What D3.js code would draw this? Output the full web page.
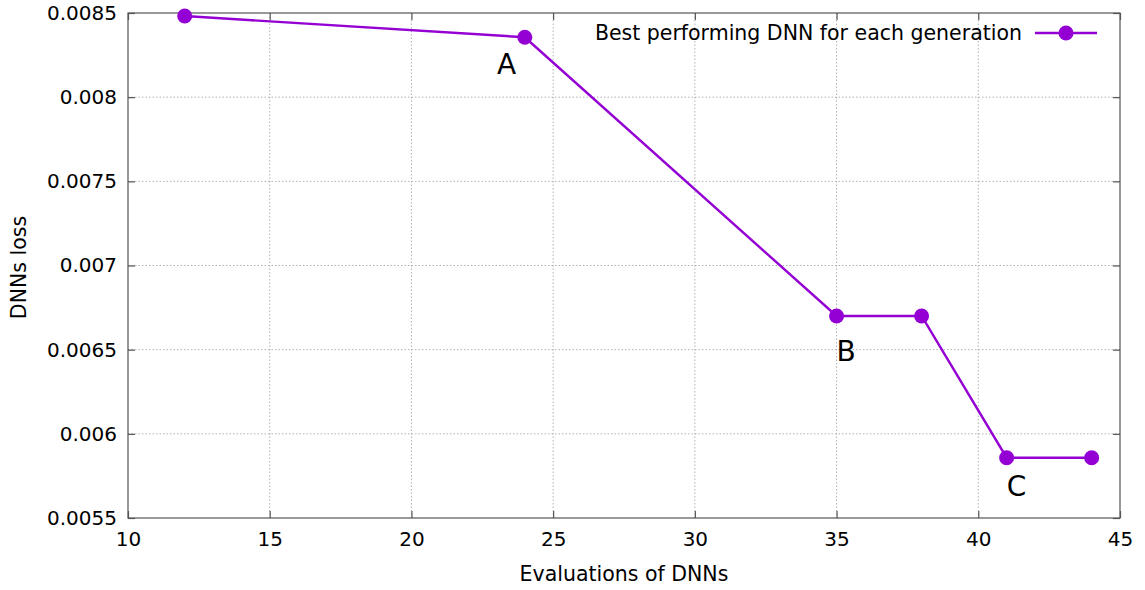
<!DOCTYPE html>
<html>
<head>
<meta charset="utf-8">
<script src="https://cdn.jsdelivr.net/npm/d3@7"></script>
<style>
  html, body { margin: 0; padding: 0; background: #fff; }
  svg { display: block; font-family: "DejaVu Sans", sans-serif; }
</style>
</head>
<body>
<svg id="chart" width="1145" height="590"></svg>
<script>
// Evaluations at which each generation's best network was recorded
const evaluations = [12, 24, 35, 38, 41, 44];
// Loss of the best network at each of those evaluations
const losses = [0.008482, 0.008356, 0.0067, 0.0067, 0.005858, 0.005858];
// Point annotations, anchored in data coordinates
const pointLabels = [
  { x: 23.02, y: 0.008138, text: "A" },
  { x: 35.0, y: 0.006432, text: "B" },
  { x: 41.0, y: 0.005632, text: "C" }
];
const xTicks = [10, 15, 20, 25, 30, 35, 40, 45];
const yTicks = [0.0055, 0.006, 0.0065, 0.007, 0.0075, 0.008, 0.0085];
const seriesName = "Best performing DNN for each generation";

const color = "#9400d3";
const svg = d3.select("#chart");
const plotL = 128, plotR = 1120, plotT = 13, plotB = 518;

const x = d3.scaleLinear().domain([10, 45]).range([plotL, plotR]);
const y = d3.scaleLinear().domain([0.0055, 0.0085]).range([plotB, plotT]);

// grid
const grid = svg.append("g");
grid.selectAll("line.gx").data(xTicks.slice(1, -1)).join("line")
  .attr("x1", d => x(d)).attr("x2", d => x(d))
  .attr("y1", plotT).attr("y2", plotB)
  .attr("stroke", "#b0b0b0").attr("stroke-width", 1).attr("stroke-dasharray", "1.5,2");
grid.selectAll("line.gy").data(yTicks.slice(1, -1)).join("line")
  .attr("x1", plotL).attr("x2", plotR)
  .attr("y1", d => y(d)).attr("y2", d => y(d))
  .attr("stroke", "#b0b0b0").attr("stroke-width", 1).attr("stroke-dasharray", "1.5,2");

// axes with inward ticks, mirrored on the opposite sides
const fmt = d => String(+d.toFixed(4));
const axisStyle = g => {
  g.select(".domain").remove();
  g.selectAll(".tick line").attr("stroke", "#555").attr("stroke-width", 1.2);
  g.selectAll(".tick text").attr("fill", "#000").style("font-size", "20px")
    .style("font-family", "DejaVu Sans, sans-serif");
};
svg.append("g").attr("transform", `translate(0,${plotB})`)
  .call(d3.axisBottom(x).tickValues(xTicks).tickSize(-7).tickPadding(14).tickFormat(d3.format("d")))
  .call(axisStyle);
svg.append("g").attr("transform", `translate(0,${plotT})`)
  .call(d3.axisTop(x).tickValues(xTicks).tickSize(-7).tickFormat(""))
  .call(axisStyle);
svg.append("g").attr("transform", `translate(${plotL},0)`)
  .call(d3.axisLeft(y).tickValues(yTicks).tickSize(-7).tickPadding(11).tickFormat(fmt))
  .call(axisStyle);
svg.append("g").attr("transform", `translate(${plotR},0)`)
  .call(d3.axisRight(y).tickValues(yTicks).tickSize(-7).tickFormat(""))
  .call(axisStyle);

// frame
svg.append("rect").attr("x", plotL).attr("y", plotT)
  .attr("width", plotR - plotL).attr("height", plotB - plotT)
  .attr("fill", "none").attr("stroke", "#555").attr("stroke-width", 1.2);

// axis titles
svg.append("text").attr("x", (plotL + plotR) / 2).attr("y", 581)
  .attr("text-anchor", "middle").style("font-size", "20.5px").text("Evaluations of DNNs");
svg.append("text").attr("transform", `translate(26,${(plotT + plotB) / 2 + 2}) rotate(-90)`)
  .attr("text-anchor", "middle").style("font-size", "20.5px").text("DNNs loss");

// series
const pts = evaluations.map((e, i) => [e, losses[i]]);
svg.append("path").datum(pts)
  .attr("d", d3.line().x(d => x(d[0])).y(d => y(d[1])))
  .attr("fill", "none").attr("stroke", color).attr("stroke-width", 2.4);
svg.selectAll("circle.pt").data(pts).join("circle")
  .attr("cx", d => x(d[0])).attr("cy", d => y(d[1])).attr("r", 7.5).attr("fill", color);

// point annotations
svg.selectAll("text.lab").data(pointLabels).join("text")
  .attr("x", d => x(d.x)).attr("y", d => y(d.y))
  .attr("text-anchor", "start").style("font-size", "28px").attr("fill", "#000")
  .text(d => d.text);

// legend
svg.append("text").attr("x", 1022).attr("y", 40).attr("text-anchor", "end")
  .style("font-size", "20.5px").text(seriesName);
svg.append("line").attr("x1", 1035).attr("x2", 1097).attr("y1", 33).attr("y2", 33)
  .attr("stroke", color).attr("stroke-width", 2.4);
svg.append("circle").attr("cx", 1066).attr("cy", 33).attr("r", 7.5).attr("fill", color);
</script>
</body>
</html>
